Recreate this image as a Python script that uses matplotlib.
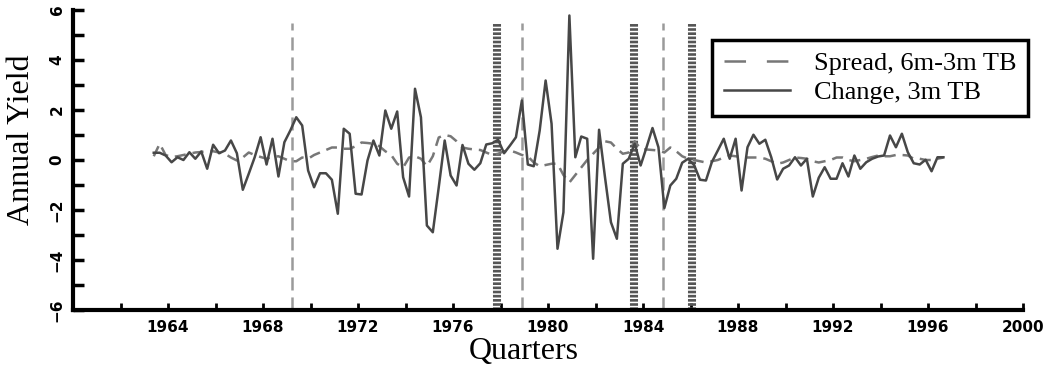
import numpy as np
import matplotlib
matplotlib.use("Agg")
import matplotlib.pyplot as plt
from matplotlib.lines import Line2D

plt.rcParams['lines.scale_dashes'] = False

# quarterly data, first quarter plotted at 1963.4
start_year = 1963.4

change_3m = [0.29, 0.29, 0.18, -0.09, 0.11, 0.0, 0.31, 0.05, 0.34, -0.35,
             0.61, 0.27, 0.38, 0.78, 0.27, -1.19, -0.55, 0.11, 0.91, -0.18,
             0.85, -0.66, 0.71, 1.18, 1.71, 1.38, -0.42, -1.09, -0.53, -0.53,
             -0.79, -2.15, 1.25, 1.05, -1.35, -1.38, -0.02, 0.78, 0.18, 1.98,
             1.25, 1.94, -0.69, -1.46, 2.85, 1.71, -2.62, -2.89, -1.09, 0.78,
             -0.62, -1.02, 0.6, -0.15, -0.39, -0.13, 0.62, 0.67, 0.81, 0.27,
             0.58, 0.91, 2.38, -0.18, -0.25, 1.18, 3.18, 1.45, -3.55, -2.09,
             5.78, 0.11, 0.94, 0.85, -3.95, 1.21, -0.69, -2.49, -3.15, -0.15,
             0.05, 0.65, -0.22, 0.51, 1.28, 0.51, -1.92, -1.02, -0.75, -0.11,
             0.05, -0.2, -0.79, -0.82, -0.08, 0.38, 0.85, 0.05, 0.85, -1.22,
             0.51, 1.01, 0.65, 0.81, 0.11, -0.78, -0.35, -0.22, 0.11, -0.22,
             0.05, -1.46, -0.71, -0.29, -0.75, -0.75, -0.13, -0.66, 0.18, -0.35,
             -0.09, 0.05, 0.14, 0.18, 0.98, 0.51, 1.05, 0.31, -0.13, -0.18,
             0.01, -0.45, 0.11, 0.11]

spread_6m3m = [0.15, 0.65, 0.2, 0.12, 0.15, 0.2, 0.25, 0.3, 0.32, 0.38,
               0.35, 0.3, 0.25, 0.1, -0.02, 0.1, 0.3, 0.2, 0.12, 0.05,
               0.12, 0.15, 0.05, -0.05, -0.05, 0.1, 0.05, 0.2, 0.3, 0.4,
               0.5, 0.5, 0.45, 0.45, 0.55, 0.7, 0.68, 0.65, 0.55, 0.35,
               0.2, -0.15, -0.3, 0.1, 0.15, 0.05, -0.25, 0.15, 0.9, 1.0,
               0.95, 0.75, 0.5, 0.45, 0.42, 0.4, 0.3, 0.2, 0.25, 0.35,
               0.38, 0.3, 0.2, 0.15, -0.1, -0.25, -0.2, -0.15, -0.15, -0.6,
               -0.9, -0.6, -0.3, 0.0, 0.25, 0.5, 0.75, 0.7, 0.45, 0.25,
               0.3, 0.75, 0.45, 0.42, 0.4, 0.38, 0.3, 0.5, 0.35, 0.15,
               0.05, 0.0, -0.05, -0.1, -0.05, 0.0, 0.1, 0.18, 0.15, 0.12,
               0.1, 0.1, 0.1, 0.05, -0.05, -0.15, -0.1, 0.0, 0.1, 0.08,
               0.05, -0.05, -0.1, -0.05, 0.0, 0.1, 0.1, 0.0, -0.05, 0.0,
               0.05, 0.12, 0.18, 0.15, 0.15, 0.2, 0.2, 0.18, 0.05, 0.05,
               0.0, 0.0, 0.05, 0.1]

dashed_marks = [1969.2, 1978.9, 1984.85]
dotted_marks = [1977.87, 1983.6, 1986.05]

years = start_year + 0.25 * np.arange(len(change_3m))

fig = plt.figure(figsize=(10.48, 3.74), dpi=100)
ax = fig.add_axes([73/1048, 64/374, 950/1048, 300/374])

for x in dashed_marks:
    ax.plot([x, x], [-6, 5.5], color='#9a9a9a', lw=1.8, dashes=(9.4, 5))
for x in dotted_marks:
    ax.plot([x, x], [-6, 5.5], color='#555555', lw=5.8, dashes=(1.9, 1.1))

ax.plot(years, spread_6m3m, color='#777777', lw=1.8, dashes=(8, 5))
ax.plot(years, change_3m, color='#474747', lw=1.8)

ax.set_xlim(1960, 2000)
ax.set_ylim(-6, 6)
ax.set_xticks(np.arange(1964, 2001, 4))
ax.set_xticks(np.arange(1960, 2001, 2), minor=True)
ax.set_yticks(np.arange(-6, 7, 2))
ax.set_yticks(np.arange(-5, 6, 2), minor=True)

for s in ['top', 'right']:
    ax.spines[s].set_visible(False)
for s in ['left', 'bottom']:
    ax.spines[s].set_linewidth(3)

ax.tick_params(axis='y', which='both', direction='in', length=8, width=2.5, pad=6,
               labelrotation=90)
ax.tick_params(axis='x', which='both', direction='in', length=5, width=2, pad=7)
for lab in ax.get_xticklabels() + ax.get_yticklabels():
    lab.set_fontweight('bold')
    lab.set_fontsize(11)
for lab in ax.get_yticklabels():
    lab.set_va('center')

fig.text(22/1048, 1 - 140/374, 'Annual Yield', rotation=90, ha='center', va='center',
         family='Liberation Serif', fontsize=23)
fig.text(524/1048, 1 - 352/374, 'Quarters', ha='center', va='center',
         family='Liberation Serif', fontsize=23)

handles = [Line2D([], [], color='#777777', lw=1.8, dashes=(15.5, 15)),
           Line2D([], [], color='#474747', lw=1.8)]
leg = ax.legend(handles, ['Spread, 6m-3m TB', 'Change, 3m TB'],
                loc='upper right', bbox_to_anchor=(1028/1048, 1 - 40/374),
                bbox_transform=fig.transFigure, borderaxespad=0,
                prop={'family': 'Liberation Serif', 'size': 19},
                handlelength=2.5, handletextpad=0.9, labelspacing=0.2,
                borderpad=0.45, fancybox=False, framealpha=1)
leg.get_frame().set_edgecolor('black')
leg.get_frame().set_linewidth(2.5)

fig.savefig('out.png', dpi=100)
